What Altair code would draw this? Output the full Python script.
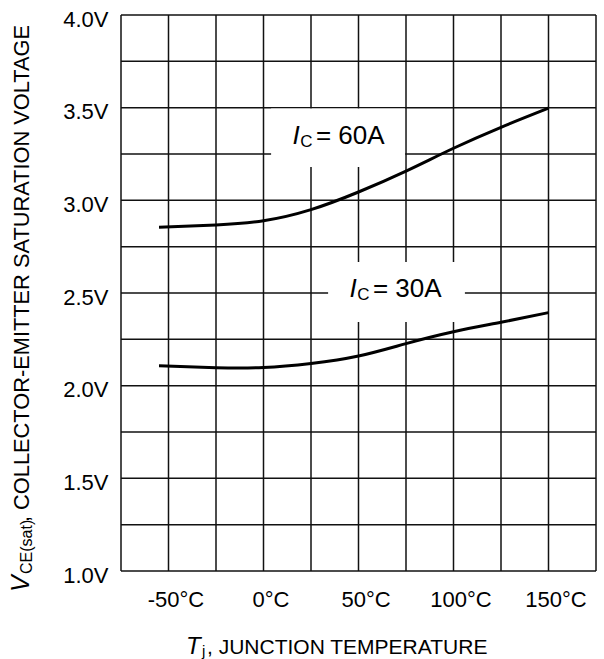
import altair as alt
import pandas as pd

# ---- data ----
temps = [-55, -25, 0, 25, 50, 75, 100, 125, 150]
vce_60a = [2.855, 2.867, 2.89, 2.95, 3.045, 3.158, 3.281, 3.394, 3.497]
vce_30a = [2.108, 2.097, 2.098, 2.120, 2.160, 2.227, 2.291, 2.342, 2.394]

grid_t = [-75, -50, -25, 0, 25, 50, 75, 100, 125, 150, 175]
grid_v = [1.0, 1.25, 1.5, 1.75, 2.0, 2.25, 2.5, 2.75, 3.0, 3.25, 3.5, 3.75, 4.0]
x_tick_labels = [-50, 0, 50, 100, 150]
y_tick_labels = [1.0, 1.5, 2.0, 2.5, 3.0, 3.5, 4.0]

# label boxes (white background behind curve labels)
box_t1 = [4, 34]
box_t2 = [74.5, 106]
box_v1 = [3.18, 2.343]
box_v2 = [3.495, 2.667]

# curve label pieces
lbl_i_t = [15.3, 45.3]
lbl_i_v = [3.304, 2.477]
lbl_sub_t = [19.4, 49.4]
lbl_sub_v = [3.288, 2.461]
lbl_main_t = [27.6, 57.6]
lbl_main_v = [3.304, 2.477]
lbl_main_text = ["= 60A", "= 30A"]

FONT = "Liberation Sans"

xs = alt.Scale(domain=[-75, 175], nice=False, zero=False)
ys = alt.Scale(domain=[1, 4], nice=False, zero=False)

curves = pd.DataFrame({
    "t": temps * 2,
    "v": vce_60a + vce_30a,
    "ic": ["60A"] * len(temps) + ["30A"] * len(temps),
})

vgrid = alt.Chart(pd.DataFrame({"t": grid_t})).mark_rule(color="#111", strokeWidth=1.5).encode(
    x=alt.X("t:Q", scale=xs,
            axis=alt.Axis(values=x_tick_labels, labelExpr="datum.value + '°C'", grid=False,
                          domain=False, ticks=False, tickSize=0, labelPadding=18, labelOffset=7,
                          labelFontSize=22, labelFont=FONT, labelColor="black", title=None)),
)
hgrid = alt.Chart(pd.DataFrame({"v": grid_v})).mark_rule(color="#111", strokeWidth=1.5).encode(
    y=alt.Y("v:Q", scale=ys,
            axis=alt.Axis(values=y_tick_labels, labelExpr="format(datum.value, '.1f') + 'V'", grid=False,
                          domain=False, ticks=False, tickSize=0, labelPadding=13, labelOffset=4,
                          labelFontSize=22, labelFont=FONT, labelColor="black", title=None)),
)

boxes = alt.Chart(pd.DataFrame({"t1": box_t1, "t2": box_t2, "v1": box_v1, "v2": box_v2})).mark_rect(
    color="white").encode(
    x=alt.X("t1:Q", scale=xs), x2="t2:Q", y=alt.Y("v1:Q", scale=ys), y2="v2:Q")

lines = alt.Chart(curves).mark_line(color="black", strokeWidth=3, interpolate="natural").encode(
    x=alt.X("t:Q", scale=xs), y=alt.Y("v:Q", scale=ys), detail="ic:N")

lbl_i = alt.Chart(pd.DataFrame({"t": lbl_i_t, "v": lbl_i_v, "s": ["I", "I"]})).mark_text(
    font=FONT, fontSize=26, fontStyle="italic", align="left", baseline="alphabetic", color="black").encode(
    x=alt.X("t:Q", scale=xs), y=alt.Y("v:Q", scale=ys), text="s:N")
lbl_sub = alt.Chart(pd.DataFrame({"t": lbl_sub_t, "v": lbl_sub_v, "s": ["C", "C"]})).mark_text(
    font=FONT, fontSize=17, align="left", baseline="alphabetic", color="black").encode(
    x=alt.X("t:Q", scale=xs), y=alt.Y("v:Q", scale=ys), text="s:N")
lbl_main = alt.Chart(pd.DataFrame({"t": lbl_main_t, "v": lbl_main_v, "s": lbl_main_text})).mark_text(
    font=FONT, fontSize=26, align="left", baseline="alphabetic", color="black").encode(
    x=alt.X("t:Q", scale=xs), y=alt.Y("v:Q", scale=ys), text="s:N")

one = pd.DataFrame({"k": [0]})

def title_piece(text, x, y, size, italic=False, angle=0):
    kw = dict(font=FONT, fontSize=size, align="left", baseline="alphabetic", color="black", text=text)
    if italic:
        kw["fontStyle"] = "italic"
    if angle:
        kw["angle"] = angle
    return alt.Chart(one).mark_text(**kw).encode(x=alt.value(x), y=alt.value(y))

x_title = [
    title_piece("T", 65, 639, 24, italic=True),
    title_piece("j", 81, 641, 15),
    title_piece(", JUNCTION TEMPERATURE", 86, 639, 21),
]
y_title = [
    title_piece("V", -92, 577, 25, italic=True, angle=270),
    title_piece("CE(sat)", -89, 559, 16, angle=270),
    title_piece(", COLLECTOR-EMITTER SATURATION VOLTAGE", -92, 507, 21.8, angle=270),
]

chart = alt.layer(vgrid, hgrid, boxes, lines, lbl_i, lbl_sub, lbl_main, *x_title, *y_title).properties(
    width=475, height=556,
    autosize=alt.AutoSizeParams(type="none"),
    padding={"left": 121, "top": 15, "right": 8, "bottom": 88},
    background="white",
).configure_view(stroke=None)

chart.save("out.html", embed_options={"renderer": "svg", "actions": False})
